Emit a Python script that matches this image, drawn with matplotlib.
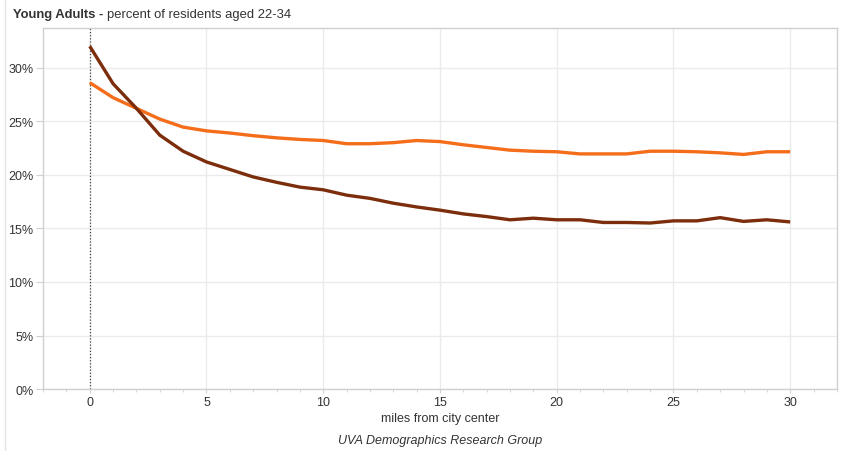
import matplotlib
matplotlib.use("Agg")
import matplotlib.pyplot as plt
from matplotlib.lines import Line2D
from matplotlib.ticker import MultipleLocator, FuncFormatter

plt.rcParams["font.family"] = ["Liberation Sans", "DejaVu Sans"]

# miles from city center
miles = list(range(0, 31))

# percent of residents aged 22-34
dark_series = [32.0, 28.5, 26.2, 23.7, 22.2, 21.2, 20.5, 19.8, 19.3, 18.85, 18.6,
               18.1, 17.8, 17.35, 17.0, 16.7, 16.35, 16.1, 15.8, 15.95, 15.8,
               15.8, 15.55, 15.55, 15.5, 15.7, 15.7, 16.0, 15.65, 15.8, 15.6]
orange_series = [28.6, 27.2, 26.2, 25.2, 24.45, 24.1, 23.9, 23.65, 23.45, 23.3, 23.2,
                 22.9, 22.9, 23.0, 23.2, 23.1, 22.8, 22.55, 22.3, 22.2, 22.15,
                 21.95, 21.95, 21.95, 22.2, 22.2, 22.15, 22.05, 21.9, 22.15, 22.15]

y_ticks = [0, 5, 10, 15, 20, 25, 30]
x_ticks = [0, 5, 10, 15, 20, 25, 30]

text_color = "#333333"
grid_color = "#ebebeb"
axis_color = "#d0d0d0"

fig = plt.figure(figsize=(8.44, 4.52), dpi=100)
ax = fig.add_axes([0.051, 0.137, 0.9406, 0.7988])

ax.plot(miles, orange_series, color="#f46d1a", lw=2.4, solid_capstyle="butt", zorder=3)
ax.plot(miles, dark_series, color="#7c2d0c", lw=2.4, solid_capstyle="butt", zorder=4)

# dotted line at the city center
ax.axvline(0, color="#444444", lw=0.9, ls=(0, (1, 1.5)), zorder=2)

ax.set_xlim(-2, 32)
ax.set_ylim(0, 33.7)
ax.set_xticks(x_ticks)
ax.set_yticks(y_ticks)
ax.xaxis.set_minor_locator(MultipleLocator(1))
ax.yaxis.set_major_formatter(FuncFormatter(lambda v, p: "%d%%" % v))

ax.grid(True, which="major", color=grid_color, lw=1, zorder=0)
ax.set_axisbelow(True)

for side in ["top", "right", "left", "bottom"]:
    ax.spines[side].set_color(axis_color)
    ax.spines[side].set_linewidth(1)

ax.tick_params(axis="x", which="major", length=3, color=axis_color, labelsize=9,
               labelcolor=text_color, pad=2)
ax.tick_params(axis="x", which="minor", length=2, color=axis_color)
ax.tick_params(axis="y", which="major", length=5, color=axis_color, labelsize=9,
               labelcolor=text_color, pad=2)

ax.set_xlabel("miles from city center", fontsize=9, color=text_color, labelpad=3)

# title: bold part, then the normal part placed right after it
t1 = fig.text(0.015, 0.966, "Young Adults -", fontsize=9.4, fontweight="bold",
              color=text_color, va="center", ha="left")
ax.annotate("percent of residents aged 22-34", xy=(1, 0.5), xycoords=t1,
            xytext=(3, 0), textcoords="offset points", fontsize=9.4,
            color=text_color, va="center", ha="left", annotation_clip=False)

fig.text(0.521, 0.024, "UVA Demographics Research Group", fontsize=9,
         style="italic", color=text_color, ha="center", va="center")

# thin panel border on the left
fig.add_artist(Line2D([0.006, 0.006], [0.0, 1.0], color="#e4e4e4", lw=1,
                      transform=fig.transFigure))

fig.savefig("out.png", dpi=100)
